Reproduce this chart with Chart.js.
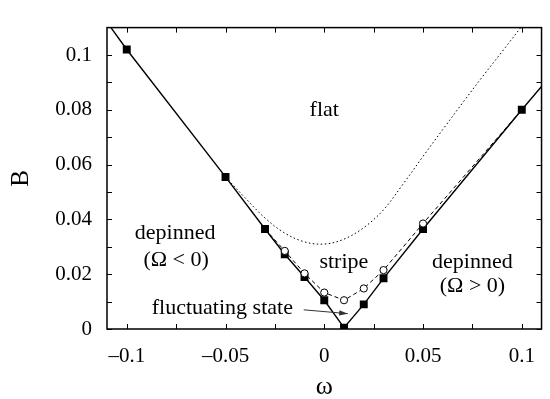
<!DOCTYPE html>
<html>
<head>
<meta charset="utf-8">
<script src="https://cdn.jsdelivr.net/npm/chart.js@4/dist/chart.umd.min.js"></script>
<style>
  html, body { margin: 0; padding: 0; background: #fff; }
</style>
</head>
<body>
<canvas id="graph" width="550" height="399"></canvas>
<script>
// solid line with filled squares (first/last are just where the line leaves the frame)
const omegaSolid = [-0.108, -0.1, -0.05, -0.03, -0.02, -0.01, 0, 0.01, 0.02, 0.03, 0.05, 0.1, 0.11];
const bSolid = [0.110, 0.102, 0.0555, 0.0365, 0.0273, 0.019, 0.0105, 0.0005, 0.009, 0.0185, 0.0365, 0.080, 0.0885];

// dashed line with open circles
const omegaOpen = [-0.03, -0.02, -0.01, 0, 0.01, 0.02, 0.03, 0.05, 0.1];
const bOpen = [0.0365, 0.0285, 0.0203, 0.0133, 0.0105, 0.0148, 0.0215, 0.0385, 0.080];

// dotted boundary of the flat phase
const omegaFlat = [-0.05, -0.04, -0.03, -0.02, -0.01, 0, 0.01, 0.02, 0.03, 0.04, 0.05, 0.06, 0.07, 0.08, 0.09, 0.1];
const bFlat = [0.0555, 0.0478, 0.0405, 0.035, 0.0318, 0.031, 0.0328, 0.037, 0.0435, 0.053, 0.063, 0.0728, 0.0825, 0.092, 0.1012, 0.1105];

// axis ticks
const xTickValues = [-0.1, -0.05, 0, 0.05, 0.1];
const xTickLabels = ['\u20130.1', '\u20130.05', '0', '0.05', '0.1'];
const xMinorTicks = [-0.075, -0.025, 0.025, 0.075];
const yTickValues = [0, 0.02, 0.04, 0.06, 0.08, 0.1];
const yTickLabels = ['0', '0.02', '0.04', '0.06', '0.08', '0.1'];
const yMinorTicks = [0.01, 0.03, 0.05, 0.07, 0.09];

// region labels (data coords of the text baseline centre)
const regionLabels = [
  { text: 'flat', x: 0, y: 0.0776 },
  { text: 'depinned', x: -0.0755, y: 0.0329 },
  { text: '(\u03A9 < 0)', x: -0.075, y: 0.0231 },
  { text: 'stripe', x: 0.0099, y: 0.0224 },
  { text: 'depinned', x: 0.075, y: 0.0222 },
  { text: '(\u03A9 > 0)', x: 0.075, y: 0.0136 },
  { text: 'fluctuating state', x: -0.0516, y: 0.0056 }
];

const serif = 'Liberation Serif, Times New Roman, serif';

function toPoints(xs, ys) {
  return xs.map((v, i) => ({ x: v, y: ys[i] }));
}

const frame = {
  id: 'frame',
  afterDatasetsDraw(chart) {
    const { ctx, chartArea: a, scales: { x, y } } = chart;
    ctx.save();
    ctx.strokeStyle = '#000';
    ctx.lineWidth = 1.5;
    ctx.strokeRect(a.left, a.top, a.right - a.left, a.bottom - a.top);

    // inward ticks on all four sides
    ctx.lineWidth = 1;
    const len = 5;
    ctx.beginPath();
    xTickValues.concat(xMinorTicks).forEach(v => {
      const px = Math.round(x.getPixelForValue(v)) + 0.5;
      ctx.moveTo(px, a.bottom); ctx.lineTo(px, a.bottom - len);
      ctx.moveTo(px, a.top); ctx.lineTo(px, a.top + len);
    });
    yTickValues.concat(yMinorTicks).forEach(v => {
      const py = Math.round(y.getPixelForValue(v)) + 0.5;
      ctx.moveTo(a.left, py); ctx.lineTo(a.left + len, py);
      ctx.moveTo(a.right, py); ctx.lineTo(a.right - len, py);
    });
    ctx.stroke();

    // labels
    ctx.fillStyle = '#000';
    ctx.font = '22px ' + serif;
    ctx.textAlign = 'center';
    ctx.textBaseline = 'alphabetic';
    regionLabels.forEach(l => {
      ctx.fillText(l.text, x.getPixelForValue(l.x), y.getPixelForValue(l.y));
    });

    // arrow pointing at the fluctuating state
    const x0 = x.getPixelForValue(-0.0104), y0 = y.getPixelForValue(0.007);
    const x1 = x.getPixelForValue(0.0119), y1 = y.getPixelForValue(0.0056);
    const ang = Math.atan2(y1 - y0, x1 - x0);
    ctx.strokeStyle = '#333';
    ctx.fillStyle = '#333';
    ctx.lineWidth = 1;
    ctx.beginPath();
    ctx.moveTo(x0, y0);
    ctx.lineTo(x1, y1);
    ctx.stroke();
    ctx.beginPath();
    ctx.moveTo(x1, y1);
    ctx.lineTo(x1 - 9 * Math.cos(ang - 0.3), y1 - 9 * Math.sin(ang - 0.3));
    ctx.lineTo(x1 - 9 * Math.cos(ang + 0.3), y1 - 9 * Math.sin(ang + 0.3));
    ctx.closePath();
    ctx.fill();
    ctx.restore();
  }
};

const lastSolid = omegaSolid.length - 1;
const lastOpen = omegaOpen.length - 1;

new Chart(document.getElementById('graph'), {
  type: 'scatter',
  data: {
    datasets: [
      {
        data: toPoints(omegaFlat, bFlat),
        showLine: true,
        borderColor: '#000',
        borderWidth: 1,
        borderDash: [1.5, 2.5],
        pointRadius: 0,
        tension: 0.35
      },
      {
        data: toPoints(omegaOpen, bOpen),
        showLine: true,
        borderColor: '#000',
        borderWidth: 1,
        borderDash: [4, 3],
        pointStyle: 'circle',
        pointRadius: c => (c.dataIndex === 0 || c.dataIndex === lastOpen) ? 0 : 3.6,
        pointBackgroundColor: '#fff',
        pointBorderColor: '#000',
        pointBorderWidth: 1
      },
      {
        data: toPoints(omegaSolid, bSolid),
        showLine: true,
        borderColor: '#000',
        borderWidth: 1.4,
        pointStyle: 'rect',
        pointRadius: c => (c.dataIndex === 0 || c.dataIndex === lastSolid) ? 0 : 5.6,
        pointBackgroundColor: '#000',
        pointBorderColor: '#000',
        pointBorderWidth: 0
      }
    ]
  },
  options: {
    responsive: false,
    animation: false,
    events: [],
    layout: { padding: { top: 14, right: 2, left: 0, bottom: 0 } },
    plugins: { legend: { display: false }, tooltip: { enabled: false } },
    scales: {
      x: {
        type: 'linear',
        min: -0.11,
        max: 0.11,
        grid: { display: false, drawTicks: false },
        border: { display: false },
        afterBuildTicks: s => { s.ticks = xTickValues.map(v => ({ value: v })); },
        afterFit: s => { s.height = 70; },
        ticks: {
          padding: 15,
          color: '#000',
          font: { family: serif, size: 21 },
          maxRotation: 0,
          callback: (v, i) => xTickLabels[i]
        },
        title: {
          display: true,
          text: '\u03C9',
          color: '#000',
          font: { family: serif, size: 26 },
          padding: { top: 0, bottom: -4 }
        }
      },
      y: {
        type: 'linear',
        min: 0,
        max: 0.11,
        grid: { display: false, drawTicks: false },
        border: { display: false },
        afterBuildTicks: s => { s.ticks = yTickValues.map(v => ({ value: v })); },
        afterFit: s => { s.width = 107; },
        ticks: {
          padding: 15,
          color: '#000',
          font: { family: serif, size: 21 },
          callback: (v, i) => yTickLabels[i]
        },
        title: {
          display: true,
          text: 'B',
          color: '#000',
          font: { family: serif, size: 25 },
          padding: { top: 6, bottom: 0 }
        }
      }
    }
  },
  plugins: [frame]
});
</script>
</body>
</html>
